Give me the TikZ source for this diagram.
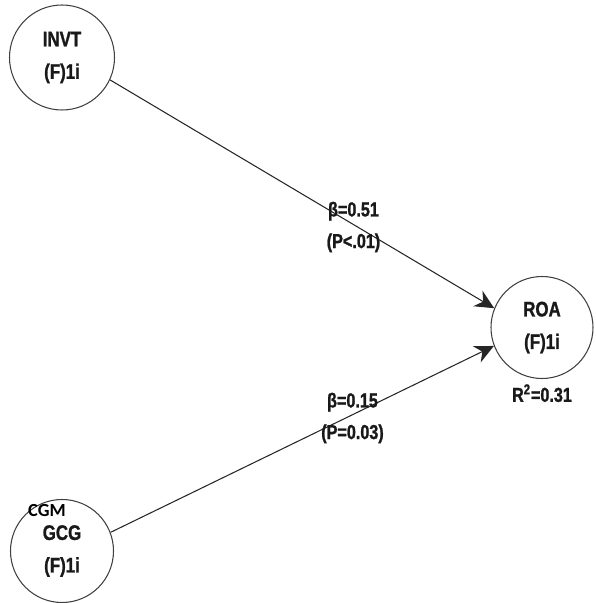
\documentclass[tikz,border=0pt]{standalone}
\usepackage{fontspec}
\setmainfont[FakeStretch=0.8,FakeBold=1.2]{Liberation Sans}
\newfontfamily\calfont{Carlito}
\usetikzlibrary{positioning,arrows.meta}
\tikzset{
  every picture/.style={line width=0.6pt},
  cons/.style={draw=black!75,circle,minimum size=20.6mm,inner sep=0,align=center,
    text=black!90,font=\fontsize{12}{18.5}\selectfont\bfseries},
  lbl/.style={font=\fontsize{11.5}{18}\selectfont\bfseries,text=black!90,align=center,inner sep=1pt},
  tag/.style={font=\fontsize{10.5}{12}\selectfont\calfont\bfseries,inner sep=0},
  path/.style={-{Stealth[length=3.8mm,width=3.6mm]},draw=black!85,line width=0.6pt},
}
\begin{document}
\begin{tikzpicture}[x=1cm,y=1cm]
\useasboundingbox (0,0) rectangle (11.92,12.06);
% constructs
\node[cons,minimum size=2.1cm] (INVT) at (1.24,10.91) {INVT\\(F)1i};
\node[cons,minimum size=2.04cm] (ROA) at (10.84,5.51) {ROA\\(F)1i};
\node[cons,minimum size=2.06cm] (GCG) at (1.24,1.04) {GCG\\(F)1i};
\node[tag] (cgm) at (0.94,1.84) {CGM};
\node[lbl,below=0.6mm of ROA] (r2) {R\textsuperscript{2}=0.31};
% paths
\draw[path] (INVT.-25) -- (ROA.158);
\draw[path] (GCG.21) -- (ROA.201);
\node[lbl] (b1) at (7.07,7.52) {β=0.51\\(P<.01)};
\node[lbl] (b2) at (7.05,3.70) {β=0.15\\(P=0.03)};
\end{tikzpicture}
\end{document}
